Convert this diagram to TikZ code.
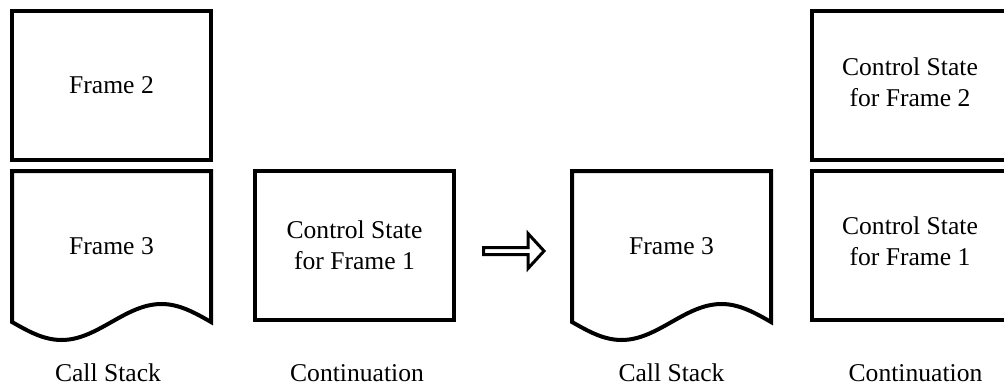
\documentclass[tikz,border=0pt]{standalone}
\usepackage{fontspec}
\setmainfont{Liberation Serif}
\begin{document}
\begin{tikzpicture}[x=0.5pt,y=-0.5pt,
  every node/.style={font=\fontsize{12.8}{15.5}\selectfont, align=center, inner sep=0pt},
  slab/.style={draw, line width=2pt, minimum width=99.5pt, minimum height=74.5pt},
  outline/.style={draw, line width=2pt, line join=miter},
  blockarrow/.style={draw, line width=1.5pt, line join=miter, fill=white}]
\useasboundingbox (0,0) rectangle (1004,385);

% left call stack
\node[slab] (f2) at (111.5,85.5) {Frame 2};
\draw[outline] (12,322) -- (12,171) -- (211,171) -- (211,322)
  sin (161.5,304) cos (111.5,322) sin (61.5,340) cos (12,322) -- cycle;
\node (f3a) at (111.5,246) {Frame 3};
\node (cs1) at (108,373) {Call Stack};

% continuation before
\node[slab] (k1a) at (354.5,245.5) {Control State\\for Frame 1};
\node (cont1) at (357,373) {Continuation};

% transition arrow
\draw[blockarrow] (483.5,247.5) -- (528,247.5) -- (528,233.5) -- (544,251)
  -- (528,268.5) -- (528,254.5) -- (483.5,254.5) -- cycle;

% right call stack
\draw[outline] (572,322) -- (572,171) -- (771,171) -- (771,322)
  sin (721.5,304) cos (671.5,322) sin (621.5,340) cos (572,322) -- cycle;
\node (f3b) at (671.5,246) {Frame 3};
\node (cs2) at (671.5,373) {Call Stack};

% continuation after
\node[slab] (k2) at (911,85.5) {};
\node at (910,82.5) {Control State\\for Frame 2};
\node[slab] (k1b) at (911,245.5) {};
\node at (910,241) {Control State\\for Frame 1};
\node (cont2) at (915.5,373) {Continuation};
\end{tikzpicture}
\end{document}
